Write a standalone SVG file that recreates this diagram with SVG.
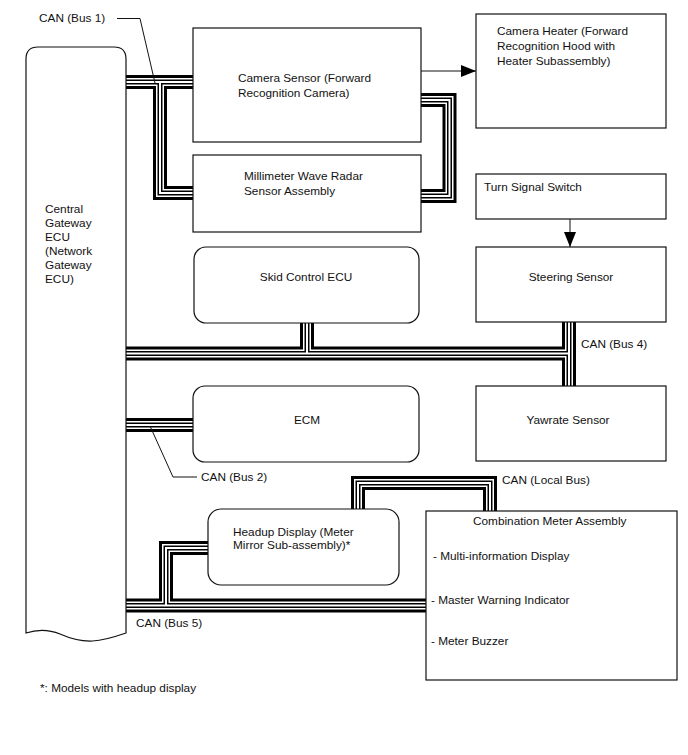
<svg xmlns="http://www.w3.org/2000/svg" width="688" height="755" viewBox="0 0 688 755">
<style>
text{font-family:"Liberation Sans",Arial,sans-serif;font-size:11.8px;fill:#111}
.box{fill:#fff;stroke:#111;stroke-width:1.2}
.bus{fill:none;stroke-linejoin:miter;stroke-linecap:butt}
.l1{stroke:#000;stroke-width:14}
.l2{stroke:#fff;stroke-width:8}
.l3{stroke:#000;stroke-width:5}
.l4{stroke:#fff;stroke-width:2}
.thin{fill:none;stroke:#111;stroke-width:1}
.mid{text-anchor:middle}
</style>
<defs>
<path id="b1" d="M126,82 H193 M160,82 V193 H193"/>
<path id="b1r" d="M421,100 H449.5 V196 H421"/>
<path id="b3" d="M126,353.5 H569 M307,323 V353.5 M569,322 V386"/>
<path id="b2" d="M126,425 H193"/>
<path id="b5" d="M126,605.5 H426 M166,605.5 V548 H208"/>
<path id="bl" d="M358,509 V483 H490 V511"/>
<marker id="ah" markerWidth="15" markerHeight="12" refX="15" refY="6" orient="auto" markerUnits="userSpaceOnUse">
<path d="M0,0 L15,6 L0,12 Z" fill="#000"/>
</marker>
</defs>
<g id="connectors">
<g class="bus l1"><use href="#b1"/><use href="#b1r"/><use href="#b3"/><use href="#b2"/><use href="#b5"/><use href="#bl"/></g>
<g class="bus l2"><use href="#b1"/><use href="#b1r"/><use href="#b3"/><use href="#b2"/><use href="#b5"/><use href="#bl"/></g>
<g class="bus l3"><use href="#b1"/><use href="#b1r"/><use href="#b3"/><use href="#b2"/><use href="#b5"/><use href="#bl"/></g>
<g class="bus l4"><use href="#b1"/><use href="#b1r"/><use href="#b3"/><use href="#b2"/><use href="#b5"/><use href="#bl"/></g>
<path class="thin" d="M421,71 H476" marker-end="url(#ah)"/>
<path class="thin" d="M570,219 V247" marker-end="url(#ah)"/>
<path class="thin" d="M117,18.5 H140 L155,83"/>
<path class="thin" d="M150,426 L173,477 H197"/>
<text x="39" y="22">CAN (Bus 1)</text>
<text x="201" y="481">CAN (Bus 2)</text>
<text x="581" y="348">CAN (Bus 4)</text>
<text x="136" y="627">CAN (Bus 5)</text>
<text x="502" y="484">CAN (Local Bus)</text>
</g>
<g id="central-gateway">
<path class="box" d="M26,633 V59 Q26,47 38,47 H114 Q126,47 126,59 V633 C100,642 85,645 60,634 C48,629 38,629 26,633 Z"/>
<text x="45" y="213">Central</text>
<text x="45" y="227">Gateway</text>
<text x="45" y="241">ECU</text>
<text x="45" y="255">(Network</text>
<text x="45" y="269">Gateway</text>
<text x="45" y="283">ECU)</text>
</g>
<g id="camera-sensor">
<rect class="box" x="193" y="28" width="228" height="114"/>
<text x="238" y="82">Camera Sensor (Forward</text>
<text x="238" y="97">Recognition Camera)</text>
</g>
<g id="millimeter-radar">
<rect class="box" x="193" y="155" width="228" height="77"/>
<text x="244" y="180">Millimeter Wave Radar</text>
<text x="244" y="195">Sensor Assembly</text>
</g>
<g id="camera-heater">
<rect class="box" x="476" y="14" width="190" height="114"/>
<text x="497" y="35">Camera Heater (Forward</text>
<text x="497" y="50">Recognition Hood with</text>
<text x="497" y="65">Heater Subassembly)</text>
</g>
<g id="turn-signal-switch">
<rect class="box" x="476" y="174" width="190" height="45"/>
<text x="484" y="191">Turn Signal Switch</text>
</g>
<g id="steering-sensor">
<rect class="box" x="476" y="247" width="190" height="75"/>
<text class="mid" x="571" y="281">Steering Sensor</text>
</g>
<g id="skid-control-ecu">
<rect class="box" x="194" y="247" width="225" height="76" rx="12"/>
<text class="mid" x="306" y="281">Skid Control ECU</text>
</g>
<g id="ecm">
<rect class="box" x="193" y="386" width="226" height="76" rx="12"/>
<text class="mid" x="307" y="424">ECM</text>
</g>
<g id="yawrate-sensor">
<rect class="box" x="476" y="386" width="190" height="75"/>
<text class="mid" x="568" y="424">Yawrate Sensor</text>
</g>
<g id="headup-display">
<rect class="box" x="208" y="509" width="191" height="76" rx="13"/>
<text x="233" y="536">Headup Display (Meter</text>
<text x="233" y="549">Mirror Sub-assembly)*</text>
</g>
<g id="combination-meter">
<rect class="box" x="426" y="511" width="251" height="169"/>
<text x="473" y="525">Combination Meter Assembly</text>
<text x="433" y="560">- Multi-information Display</text>
<text x="431" y="604">- Master Warning Indicator</text>
<text x="431" y="645">- Meter Buzzer</text>
</g>
<text x="40" y="692">*: Models with headup display</text>
</svg>
